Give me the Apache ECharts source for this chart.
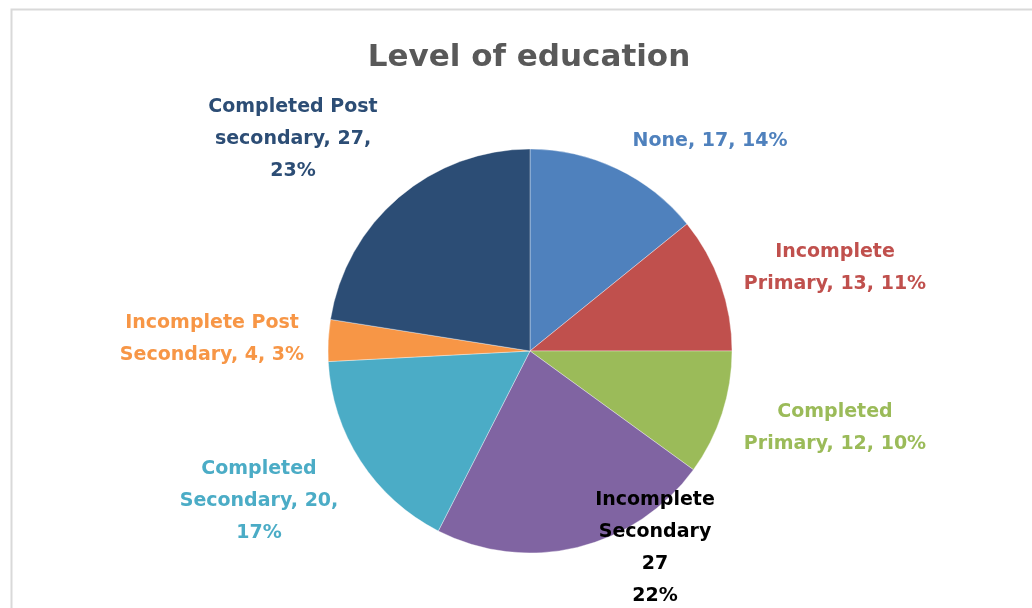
<!DOCTYPE html>
<html>
<head>
<meta charset="utf-8">
<script src="https://cdn.jsdelivr.net/npm/echarts@6/dist/echarts.min.js"></script>
<style>
html,body{margin:0;padding:0;background:#fff;}
#chart{width:1032px;height:608px;}
</style>
</head>
<body>
<div id="chart"></div>
<script>
// ---- data ----
const categories = ['None', 'Incomplete Primary', 'Completed Primary', 'Incomplete Secondary', 'Completed Secondary', 'Incomplete Post Secondary', 'Completed Post secondary'];
const counts = [17, 13, 12, 27, 20, 4, 27];
const percentLabels = [14, 11, 10, 22, 17, 3, 23];
const titleText = 'Level of education';

// ---- styling ----
const sliceColors = ['#4F81BD', '#C0504D', '#9BBB59', '#8064A2', '#4BACC6', '#F79646', '#2C4D75'];
const labelColors = ['#4F81BD', '#C0504D', '#9BBB59', '#000000', '#4BACC6', '#F79646', '#2C4D75'];
const labelTemplates = [
  '{name}, {value}, {pct}%',
  '{w0}\n{w1}, {value}, {pct}%',
  '{w0}\n{w1}, {value}, {pct}%',
  '{w0}\n{w1}\n{value}\n{pct}%',
  '{w0}\n{w1}, {value},\n{pct}%',
  '{w0} {w1}\n{w2}, {value}, {pct}%',
  '{w0} {w1}\n{w2}, {value},\n{pct}%'
];
// label centre offsets from the pie centre (layout)
const labelOffsets = [[180, -210], [305, -83], [305, 77], [125, 197], [-271, 150], [-318, -12], [-237, -212]];
const pieCenter = [530, 351];
const FONT = '"DejaVu Sans", sans-serif';

function buildLabel(i) {
  const words = categories[i].split(' ');
  let s = labelTemplates[i]
    .replace('{name}', categories[i])
    .replace('{value}', counts[i])
    .replace('{pct}', percentLabels[i]);
  words.forEach((w, k) => { s = s.replace('{w' + k + '}', w); });
  return s;
}

const chart = echarts.init(document.getElementById('chart'), null, {renderer: 'canvas'});
chart.setOption({
  animation: false,
  backgroundColor: '#ffffff',
  graphic: [{
    type: 'rect',
    shape: {x: 11.5, y: 9.5, width: 1200, height: 800},
    style: {fill: 'none', stroke: '#d9d9d9', lineWidth: 2},
    silent: true,
    z: 0
  }],
  title: {
    text: titleText,
    left: 524,
    top: 37,
    textAlign: 'center',
    textStyle: {fontFamily: FONT, fontWeight: 'bold', fontSize: 31, color: '#595959'}
  },
  series: [{
    type: 'pie',
    center: pieCenter,
    radius: 202,
    startAngle: 90,
    clockwise: true,
    avoidLabelOverlap: false,
    itemStyle: {borderColor: 'rgba(255,255,255,0.6)', borderWidth: 0.6},
    label: {
      show: true,
      position: 'outside',
      fontFamily: FONT,
      fontWeight: 'bold',
      fontSize: 19,
      lineHeight: 32,
      align: 'center',
      formatter: p => buildLabel(p.dataIndex)
    },
    labelLine: {show: false},
    labelLayout: function (params) {
      const o = labelOffsets[params.dataIndex];
      return {x: pieCenter[0] + o[0], y: pieCenter[1] + o[1], align: 'center', verticalAlign: 'middle', hideOverlap: false};
    },
    emphasis: {disabled: true},
    data: categories.map((c, i) => ({
      name: c,
      value: counts[i],
      itemStyle: {color: sliceColors[i]},
      label: {color: labelColors[i]}
    }))
  }]
});
</script>
</body>
</html>
